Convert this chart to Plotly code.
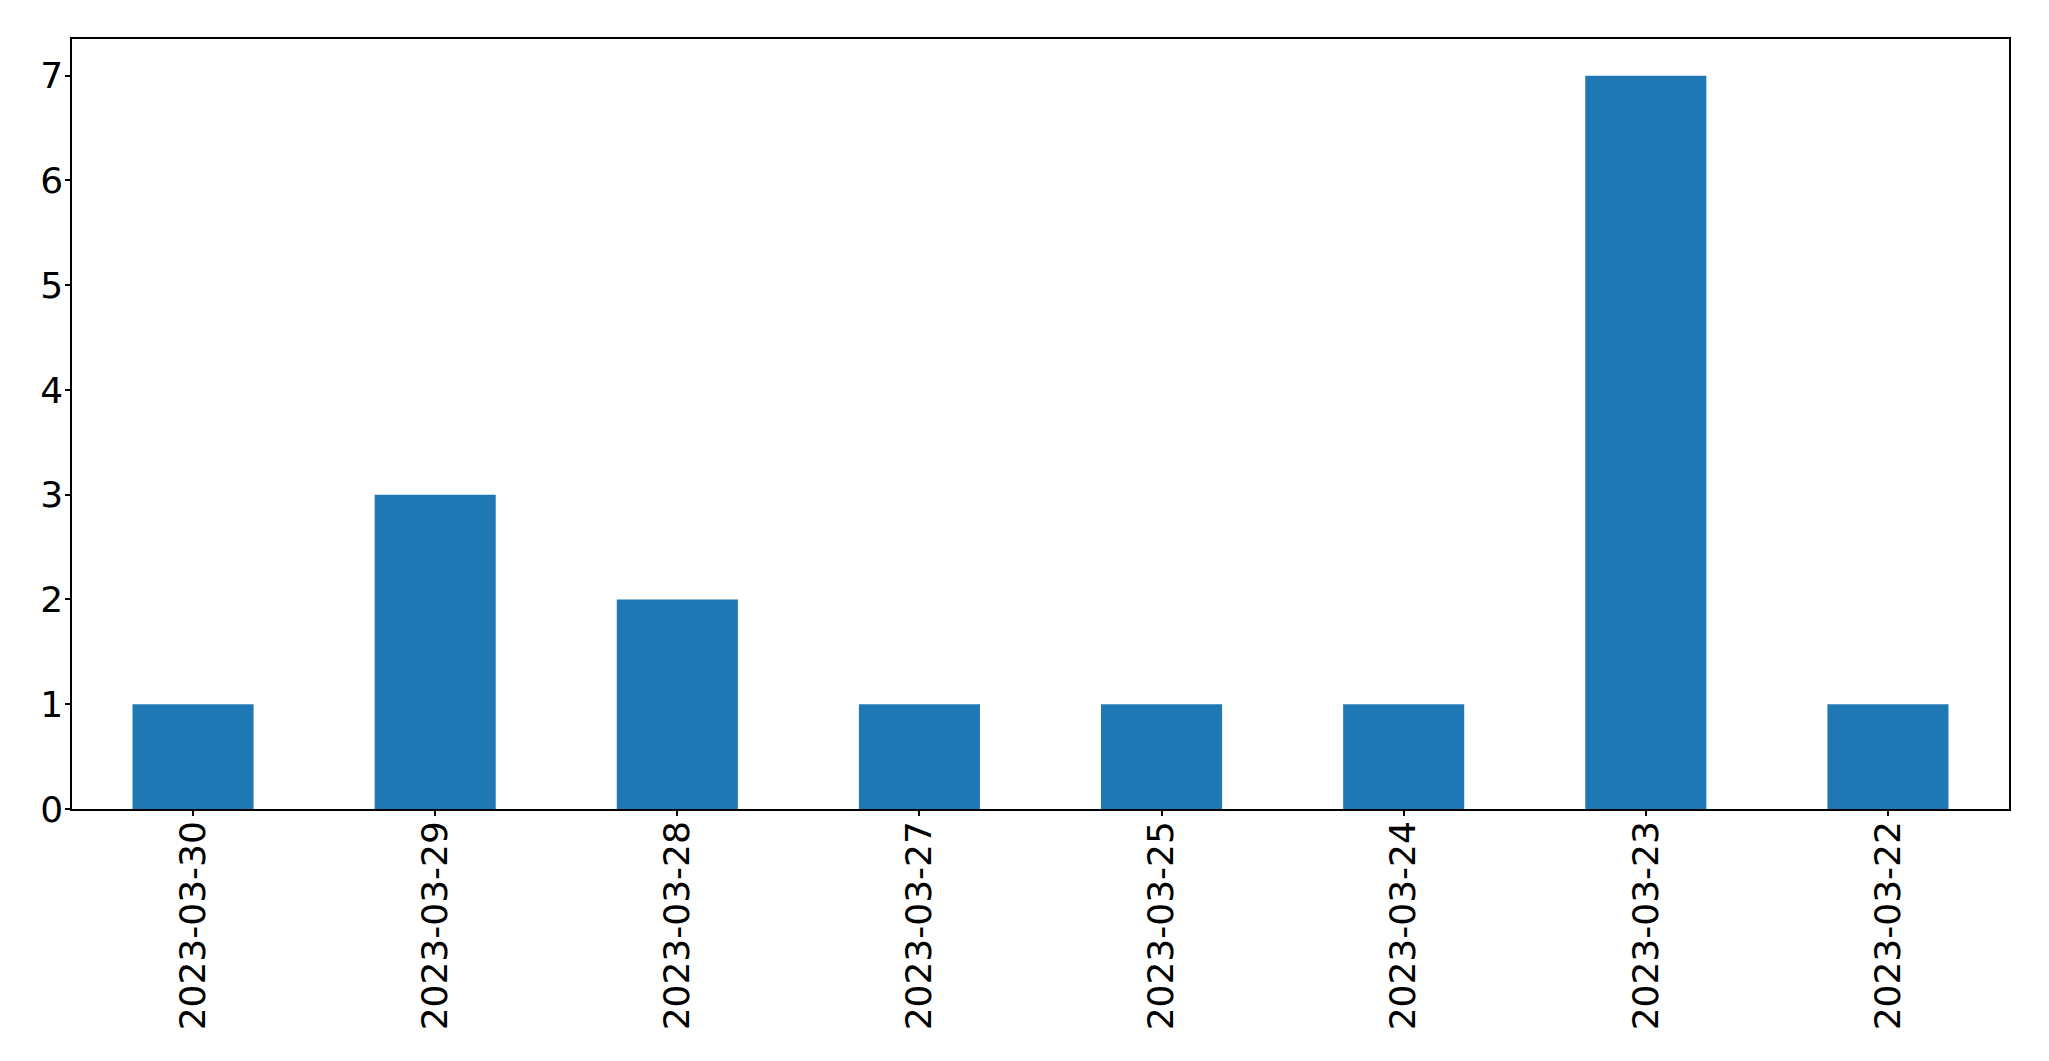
import plotly.graph_objects as go

# datos
fechas = ['2023-03-30', '2023-03-29', '2023-03-28', '2023-03-27',
          '2023-03-25', '2023-03-24', '2023-03-23', '2023-03-22']
conteos = [1, 3, 2, 1, 1, 1, 7, 1]
y_ticks = [0, 1, 2, 3, 4, 5, 6, 7]

fig = go.Figure(go.Bar(x=fechas, y=conteos, width=0.5,
                       marker=dict(color='#1f77b4', line=dict(width=0))))

fuente = dict(family='DejaVu Sans', size=36, color='black')
# la página añade 8 px de margen al cuerpo: se compensa aquí
fig.update_layout(
    width=2049, height=1061,
    margin=dict(l=64, r=48, t=31, b=260, autoexpand=False),
    plot_bgcolor='white', paper_bgcolor='white',
    showlegend=False, font=fuente,
)
fig.update_xaxes(type='category', range=[-0.5, 7.5], tickangle=-90,
                 showline=True, linecolor='black', linewidth=1.5, mirror=True,
                 ticks='outside', ticklen=5, tickwidth=1.5, tickcolor='black',
                 showgrid=False, tickfont=fuente, ticklabelstandoff=-9)
fig.update_yaxes(range=[0, 7.35], tickvals=y_ticks,
                 showline=True, linecolor='black', linewidth=1.5, mirror=True,
                 ticks='outside', ticklen=5, tickwidth=1.5, tickcolor='black',
                 showgrid=False, zeroline=False, tickfont=fuente, ticklabelstandoff=-5)

fig.write_html('out.html')
